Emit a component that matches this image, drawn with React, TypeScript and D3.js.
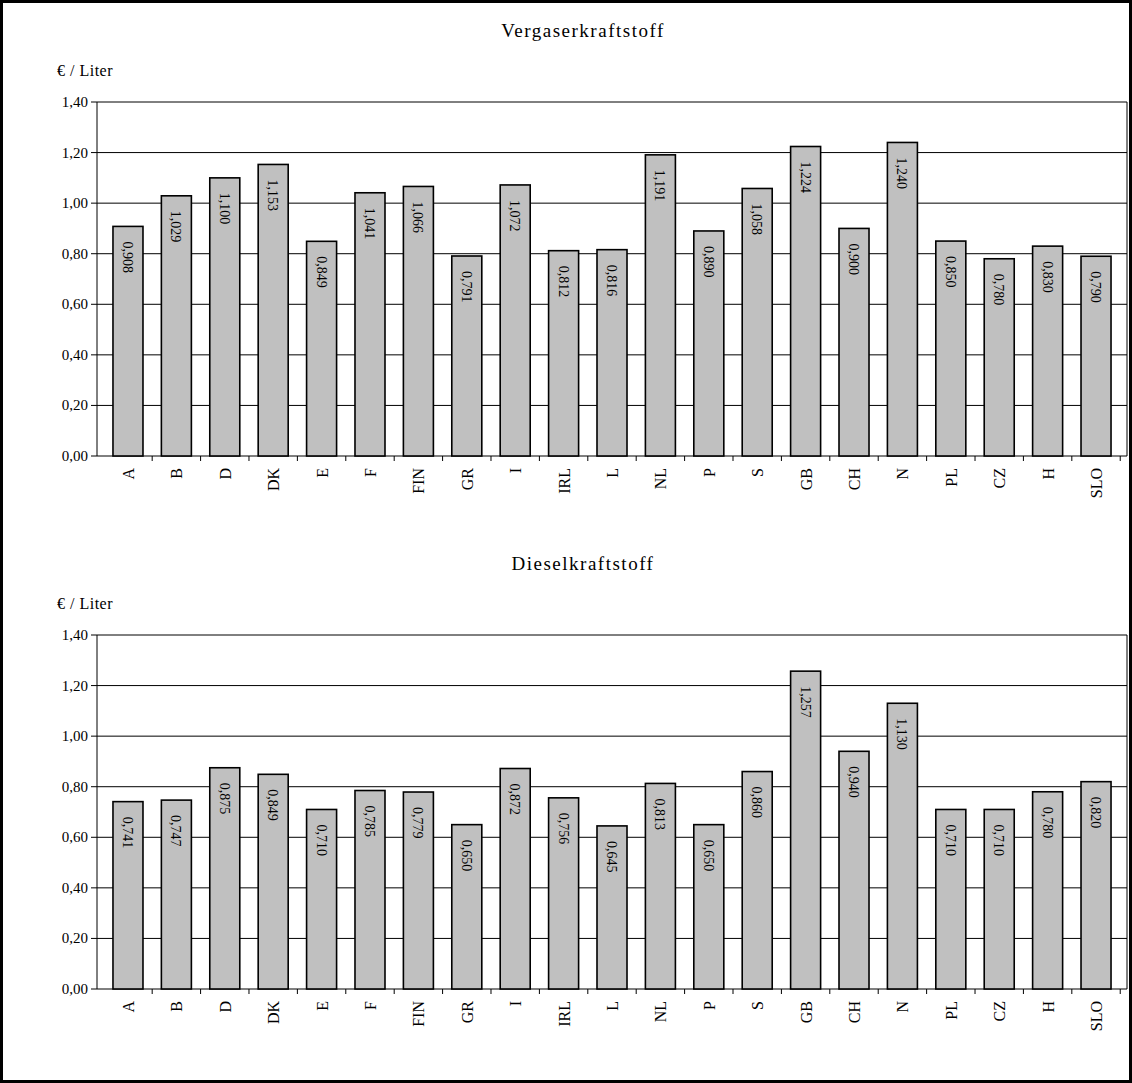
import React from "react";
import * as d3 from "d3";

const countries = ["A", "B", "D", "DK", "E", "F", "FIN", "GR", "I", "IRL", "L", "NL", "P", "S", "GB", "CH", "N", "PL", "CZ", "H", "SLO"];
const petrol = [0.908, 1.029, 1.1, 1.153, 0.849, 1.041, 1.066, 0.791, 1.072, 0.812, 0.816, 1.191, 0.89, 1.058, 1.224, 0.9, 1.24, 0.85, 0.78, 0.83, 0.79];
const diesel = [0.741, 0.747, 0.875, 0.849, 0.71, 0.785, 0.779, 0.65, 0.872, 0.756, 0.645, 0.813, 0.65, 0.86, 1.257, 0.94, 1.13, 0.71, 0.71, 0.78, 0.82];
const yTicks = [0, 0.2, 0.4, 0.6, 0.8, 1.0, 1.2, 1.4];

const W = 1132;
const H = 1083;
const FONT = "'Liberation Serif', 'DejaVu Serif', serif";
const fmt = (v: number, d: number) => v.toFixed(d).replace(".", ",");

function Panel({ title, values, top }: { title: string; values: number[]; top: number }) {
  const left = 97;
  const right = 1127;
  const plotTop = top + 100;
  const plotBottom = top + 454;
  const x = d3.scaleBand<string>().domain(countries).range([left, right]).paddingInner(0.38).paddingOuter(0.33);
  const y = d3.scaleLinear().domain([0, 1.4]).range([plotBottom, plotTop]);
  return (
    <g fontFamily={FONT}>
      <text x={583} y={top + 35} textAnchor="middle" fontSize={19} letterSpacing={1.5}>{title}</text>
      <text x={57} y={top + 74} fontSize={16} letterSpacing={0.5}>€ / Liter</text>
      {yTicks.map((t) => (
        <g key={t}>
          <line x1={left} x2={right} y1={y(t)} y2={y(t)} stroke="#000" strokeWidth={1} />
          <line x1={left - 6} x2={left} y1={y(t)} y2={y(t)} stroke="#000" />
          <text x={left - 9} y={y(t) + 5} textAnchor="end" fontSize={15}>{fmt(t, 2)}</text>
        </g>
      ))}
      <line x1={left} x2={left} y1={plotTop} y2={plotBottom} stroke="#000" />
      <line x1={right} x2={right} y1={plotTop} y2={plotBottom} stroke="#000" />
      {countries.map((c, i) => {
        const bx = x(c)!;
        const bw = x.bandwidth();
        const cx = bx + bw / 2;
        const yt = y(values[i]);
        const tickX = bx + bw + (x.step() - bw) / 2;
        return (
          <g key={c}>
            <rect x={bx} y={yt} width={bw} height={plotBottom - yt} fill="#c0c0c0" stroke="#000" strokeWidth={1.6} />
            <text transform={`translate(${cx - 5},${yt + 15}) rotate(90)`} fontSize={14}>{fmt(values[i], 3)}</text>
            <line x1={tickX} x2={tickX} y1={plotBottom} y2={plotBottom + 5} stroke="#000" />
            <text transform={`translate(${cx + 6},${plotBottom + 12}) rotate(-90)`} textAnchor="end" fontSize={16}>{c}</text>
          </g>
        );
      })}
    </g>
  );
}

export default function App() {
  return (
    <div style={{ position: "fixed", left: 0, top: 0 }}>
      <svg width={W} height={H} style={{ display: "block", background: "#fff" }}>
        <rect x={1.5} y={1.5} width={W - 3} height={H - 3} fill="none" stroke="#000" strokeWidth={3} />
        <Panel title="Vergaserkraftstoff" values={petrol} top={2} />
        <Panel title="Dieselkraftstoff" values={diesel} top={535} />
      </svg>
    </div>
  );
}
